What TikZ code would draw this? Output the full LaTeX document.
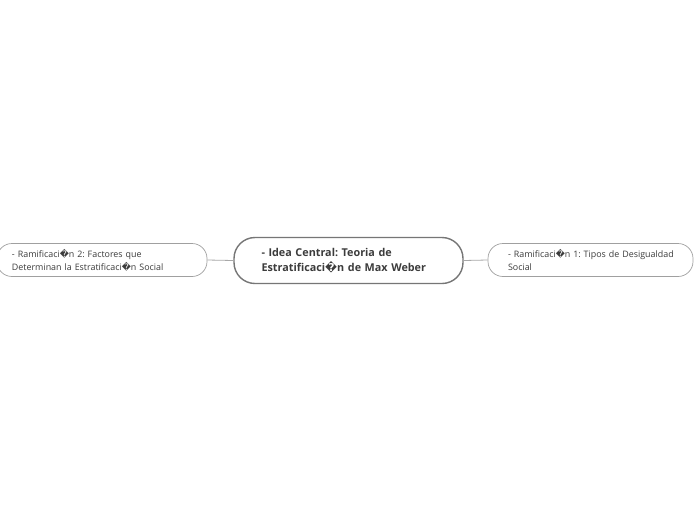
\documentclass[tikz,border=0pt]{standalone}
\usepackage{fontspec}
\setmainfont{Open Sans}
\newfontfamily\repfont{DejaVu Sans}
\newcommand{\rep}{{\repfont\char"FFFD}}
\newcommand{\ind}{\hspace*{10pt}}
\newcommand{\nohyph}{\hyphenpenalty=10000\relax}
\definecolor{centralborder}{HTML}{767676}
\definecolor{branchborder}{HTML}{A0A0A0}
\definecolor{linkcol}{HTML}{A8A8A8}
\definecolor{txtcol}{HTML}{3C3C3C}
\tikzset{
  centralbox/.style={draw=centralborder, line width=1.4pt, rounded corners=21pt,
    minimum width=229pt, minimum height=46pt, inner xsep=0pt, inner ysep=0pt,
    text width=174pt, align=left, text=txtcol,
    font=\frenchspacing\nohyph\fontsize{10.8}{14.5}\selectfont\bfseries},
  branchbox/.style={draw=branchborder, line width=0.7pt, rounded corners=15pt,
    minimum height=33pt, inner xsep=0pt, inner ysep=0pt,
    align=left, text=txtcol,
    font=\frenchspacing\nohyph\fontsize{8.9}{13}\selectfont},
  link/.style={draw=linkcol, line width=0.8pt}
}
\begin{document}
\begin{tikzpicture}[x=1pt,y=-1pt]
\useasboundingbox[fill=white] (0,0) rectangle (696,520);
\node[centralbox] (central) at (348.5,260.5) {- Idea Central: Teoria de\\Estratificaci\rep n de Max Weber};
\node[branchbox, minimum width=210pt, text width=180pt] (left) at (102,260) {- Ramificaci\rep n 2: Factores que\\Determinan la Estratificaci\rep n Social};
\node[branchbox, minimum width=205pt, text width=185pt] (right) at (590.5,260) {\ind- Ramificaci\rep n 1: Tipos de Desigualdad\\\ind Social};
\draw[link] (left.east) -- (central.west);
\draw[link] (central.east) -- (right.west);
\end{tikzpicture}
\end{document}
